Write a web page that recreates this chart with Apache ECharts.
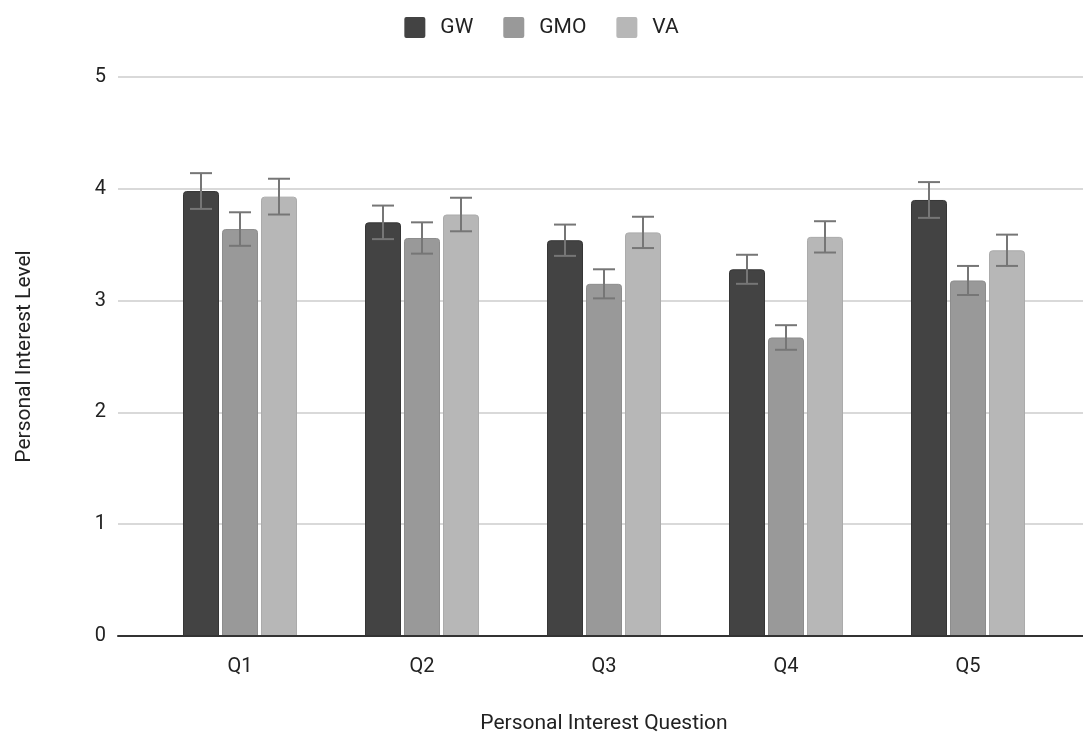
<!DOCTYPE html>
<html>
<head>
<meta charset="utf-8">
<script src="https://cdn.jsdelivr.net/npm/echarts@6/dist/echarts.min.js"></script>
<style>html,body{margin:0;padding:0;background:#fff;}#c{width:1083px;height:735px;}</style>
</head>
<body>
<div id="c"></div>
<script>
const categories = ['Q1', 'Q2', 'Q3', 'Q4', 'Q5'];
const seriesNames = ['GW', 'GMO', 'VA'];
const gwValues  = [3.98, 3.70, 3.54, 3.28, 3.90];
const gmoValues = [3.64, 3.56, 3.15, 2.67, 3.18];
const vaValues  = [3.93, 3.77, 3.61, 3.57, 3.45];
const gwErrors  = [0.16, 0.15, 0.14, 0.13, 0.16];
const gmoErrors = [0.15, 0.14, 0.13, 0.11, 0.13];
const vaErrors  = [0.16, 0.15, 0.14, 0.14, 0.14];
const yTicks = [0, 1, 2, 3, 4, 5];

const colors = ['#434343', '#999999', '#b7b7b7'];
const borders = ['#363636', '#8d8d8d', '#ababab'];
const allValues = [gwValues, gmoValues, vaValues];
const allErrors = [gwErrors, gmoErrors, vaErrors];
const BAR_W = 36, BAR_GAP = 3;
const FONT = 'Roboto';

const chart = echarts.init(document.getElementById('c'), null, {renderer: 'canvas'});

const series = [];
seriesNames.forEach((name, i) => {
  series.push({
    name, type: 'bar', xAxisIndex: 1, yAxisIndex: 1,
    data: allValues[i], barWidth: BAR_W, barGap: (BAR_GAP / BAR_W * 100) + '%',
    itemStyle: {color: colors[i], borderColor: borders[i], borderWidth: 1, borderRadius: [3, 3, 0, 0]},
    emphasis: {disabled: true}
  });
});
seriesNames.forEach((name, i) => {
  const data = allValues[i].map((v, k) => [k, v - allErrors[i][k], v + allErrors[i][k]]);
  series.push({
    type: 'custom', xAxisIndex: 1, yAxisIndex: 1, z: 10, silent: true,
    data,
    renderItem: function (params, api) {
      const off = (i - 1) * (BAR_W + BAR_GAP);
      const lo = api.coord([api.value(0), api.value(1)]);
      const hi = api.coord([api.value(0), api.value(2)]);
      const x = lo[0] + off, hw = 11;
      const st = {stroke: '#767676', lineWidth: 2};
      return {type: 'group', children: [
        {type: 'line', shape: {x1: x, y1: lo[1], x2: x, y2: hi[1]}, style: st},
        {type: 'line', shape: {x1: x - hw, y1: lo[1], x2: x + hw, y2: lo[1]}, style: st},
        {type: 'line', shape: {x1: x - hw, y1: hi[1], x2: x + hw, y2: hi[1]}, style: st}
      ]};
    }
  });
});

chart.setOption({
  animation: false,
  textStyle: {fontFamily: FONT},
  legend: {
    top: 12, left: 'center', data: seriesNames,
    itemWidth: 21, itemHeight: 21, itemGap: 30,
    icon: 'path://M2,0 H19 Q21,0 21,2 V19 Q21,21 19,21 H2 Q0,21 0,19 V2 Q0,0 2,0 Z',
    itemStyle: {borderWidth: 0},
    textStyle: {fontFamily: FONT, fontSize: 21, color: '#222', padding: [0, 0, 0, 10]}
  },
  grid: [
    {left: 118, right: 0, top: 77, bottom: 99, containLabel: false, outerBoundsMode: 'none'},
    {left: 149, right: 24, top: 77, bottom: 99, containLabel: false, outerBoundsMode: 'none'}
  ],
  xAxis: [
    {type: 'category', gridIndex: 0, data: categories, axisLabel: {show: false}, axisTick: {show: false},
     axisLine: {show: true, lineStyle: {color: '#333', width: 2}}, z: 5},
    {type: 'category', gridIndex: 1, data: categories, axisTick: {show: false}, axisLine: {show: false},
     axisLabel: {fontFamily: FONT, fontSize: 20, color: '#222', margin: 21},
     name: 'Personal Interest Question', nameLocation: 'middle', nameGap: 77,
     nameTextStyle: {fontFamily: FONT, fontSize: 21, color: '#222'}}
  ],
  yAxis: [
    {type: 'value', gridIndex: 0, min: 0, max: 5, interval: 1,
     axisLabel: {fontFamily: FONT, fontSize: 20, color: '#222', margin: 12,
                 formatter: v => yTicks.includes(v) ? String(v) : ''},
     axisLine: {show: false}, axisTick: {show: false},
     splitLine: {lineStyle: {color: '#cccccc', width: 1.5}},
     name: 'Personal Interest Level', nameLocation: 'middle', nameGap: 83,
     nameTextStyle: {fontFamily: FONT, fontSize: 21, color: '#222'}},
    {type: 'value', gridIndex: 1, min: 0, max: 5, interval: 1, show: false}
  ],
  series
});
</script>
</body>
</html>
